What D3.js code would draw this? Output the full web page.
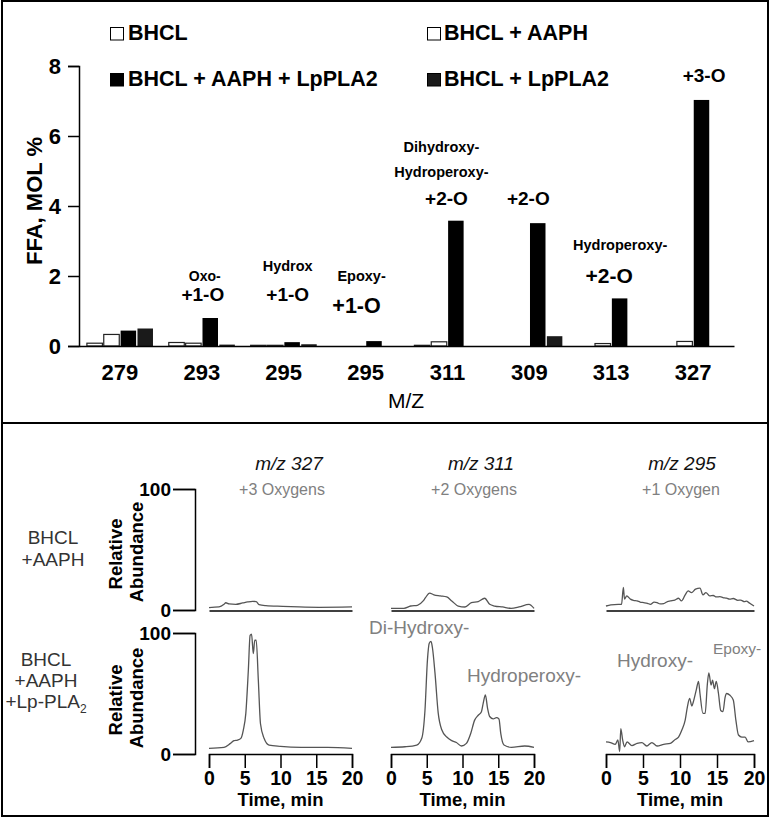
<!DOCTYPE html>
<html>
<head>
<meta charset="utf-8">
<script src="https://cdn.jsdelivr.net/npm/d3@7"></script>
<style>
  html, body { margin: 0; padding: 0; background: #fff; }
  svg { display: block; font-family: "Liberation Sans", Arial, sans-serif; }
</style>
</head>
<body>
<svg id="chart" width="771" height="818"></svg>
<script>
// ---------------- DATA ----------------
const categories = ["279", "293", "295", "295", "311", "309", "313", "327"];
const seriesNames = ["BHCL", "BHCL + AAPH", "BHCL + AAPH + LpPLA2", "BHCL + LpPLA2"];
const bhcl         = [0.08, 0.10, 0.02, 0.00, 0.02, 0.00, 0.00, 0.00];
const bhclAaph     = [0.33, 0.08, 0.02, 0.00, 0.12, 0.00, 0.07, 0.13];
const bhclAaphLp   = [0.44, 0.80, 0.11, 0.14, 3.58, 3.51, 1.36, 7.03];
const bhclLp       = [0.50, 0.04, 0.05, 0.00, 0.00, 0.28, 0.00, 0.00];
const yTicks = [0, 2, 4, 6, 8];

// annotation texts per category index
const annotations = [
  { cat: 1, lines: ["Oxo-", "+1-O"] },
  { cat: 2, lines: ["Hydrox", "+1-O"] },
  { cat: 3, lines: ["Epoxy-", "+1-O"] },
  { cat: 4, lines: ["Dihydroxy-", "Hydroperoxy-", "+2-O"] },
  { cat: 5, lines: ["+2-O"] },
  { cat: 6, lines: ["Hydroperoxy-", "+2-O"] },
  { cat: 7, lines: ["+3-O"] }
];

// chromatograms: [time (min), relative abundance %]
const columnTitles = ["m/z 327", "m/z 311", "m/z 295"];
const columnSubtitles = ["+3 Oxygens", "+2 Oxygens", "+1 Oxygen"];
const timeTicks = [0, 5, 10, 15, 20];

const trace327Aaph = [[0,2],[1.4,2.5],[2.1,4.7],[2.35,6],[2.8,5],[3.75,4.7],[4.7,5.8],[5.4,6.7],[6.1,7.2],[6.6,7],[7.0,4.4],[7.95,3.6],[10.3,3],[12.6,2.5],[15.4,2.2],[20,2.5]];
const trace311Aaph = [[0,1.4],[1.8,1.4],[2.75,3.3],[3.7,3.9],[4.5,7.5],[4.8,10],[5.4,14],[6.0,12.6],[6.9,11.7],[7.8,10.8],[8.5,7.5],[9.4,3.3],[10.35,2.5],[11.25,6],[12.2,6.9],[13.1,9.7],[13.8,4.7],[14.5,3.3],[15.6,2.5],[16.8,1.4],[17.9,2.5],[19.3,4.7],[20,1.4]];
const trace295Aaph = [[0,3.3],[0.65,4.2],[1.65,4.7],[2.1,4.7],[2.35,18.6],[2.5,9],[2.8,11.7],[3.3,9],[3.7,8],[4.2,7.5],[4.6,6.6],[5.1,6.1],[5.6,5.5],[6.0,4.7],[6.5,6.5],[6.9,6.1],[7.3,5],[7.8,5.3],[8.3,7],[8.7,7.5],[9.3,8.2],[9.8,9.7],[10.2,7.5],[10.7,12.5],[11.1,15.8],[11.55,14.4],[12.1,17.2],[12.7,18],[13.1,12.5],[13.5,14.4],[14.0,11.7],[14.5,12],[14.9,10.8],[15.4,11],[15.8,10.3],[16.3,9.8],[16.7,9],[17.2,9.5],[17.8,8],[18.2,8.2],[18.7,6.9],[19.0,7.3],[19.3,6.1],[20,3.3]];

const trace327Lp = [[0,4.7],[2.1,5.5],[3.0,8.8],[3.5,11],[4.0,11.5],[4.45,12.9],[4.8,19.8],[5.15,33.6],[5.5,69],[5.75,98],[5.95,99],[6.2,83],[6.4,94],[6.6,94],[6.9,61],[7.2,25],[7.7,13],[8.4,7.4],[10,6.3],[12.9,5.5],[16.6,5.5],[20,4.7]];
const trace311Lp = [[0,5.5],[1.95,6],[3.6,7.4],[4.3,13],[4.75,36],[5.1,78],[5.35,91.5],[5.6,93],[5.8,87.6],[6.15,67],[6.6,34],[7.1,20],[7.8,14],[8.5,11],[9.15,9.5],[9.85,6.6],[10.55,8.8],[11.15,17],[11.7,28],[12.2,32],[12.65,35],[12.9,42],[13.2,48.8],[13.5,38],[13.8,31],[14.3,29],[14.75,30],[15.1,29],[15.35,17],[15.8,7.4],[16.85,5.5],[18.7,6.6],[20,5.5]];
const trace295Lp = [[0,10],[0.6,9.4],[1.25,8],[1.6,11.6],[1.85,2],[2.0,21],[2.25,11.6],[2.5,6],[2.85,10],[3.5,7],[4.2,8.8],[4.85,9.4],[5.5,6.6],[6.2,9.4],[6.9,6.6],[7.8,8],[8.7,8.8],[9.35,12],[9.8,14],[10.25,19.8],[10.7,28],[11.0,39],[11.3,46],[11.6,39.6],[11.8,43],[12.2,53],[12.5,60],[12.7,50],[13.1,33.6],[13.4,33.6],[13.7,58],[13.9,67],[14.2,57],[14.4,61],[14.65,54],[14.9,60],[15.2,50],[15.5,36],[15.8,35],[16.1,47],[16.3,50],[16.75,48.5],[17.2,44.6],[17.55,28],[17.9,15.7],[18.35,14],[18.8,14],[19.2,10],[20,11]];

const rowLabels = [["BHCL", "+AAPH"], ["BHCL", "+AAPH", "+Lp-PLA"]];
const peakLabels = [
  { col: 1, text: "Di-Hydroxy-" },
  { col: 1, text: "Hydroperoxy-" },
  { col: 2, text: "Hydroxy-" },
  { col: 2, text: "Epoxy-" }
];

// ---------------- DRAW ----------------
const svg = d3.select("#chart");
const FONT = '"Liberation Sans", Arial, sans-serif';

// frame
svg.append("rect").attr("x", 2).attr("y", 1).attr("width", 766).attr("height", 815)
  .attr("fill", "none").attr("stroke", "#000").attr("stroke-width", 2);
svg.append("line").attr("x1", 2).attr("x2", 768).attr("y1", 423).attr("y2", 423)
  .attr("stroke", "#000").attr("stroke-width", 2);

// ---------- top bar chart ----------
const seriesValues = [bhcl, bhclAaph, bhclAaphLp, bhclLp];
const seriesFill = ["#ffffff", "#ffffff", "#000000", "#1a1a1a"];
const legendFill = ["#ffffff", "#ffffff", "#000000", "#1a1a1a"];

const x0 = d3.scaleBand().domain(d3.range(categories.length)).range([79, 734]).paddingInner(0.16).paddingOuter(0.08);
const x1 = d3.scaleBand().domain(d3.range(seriesNames.length)).range([0, x0.bandwidth()]).padding(0.08);
const y = d3.scaleLinear().domain([0, 8]).range([346, 66]);

const topG = svg.append("g");

// bars
categories.forEach((c, i) => {
  seriesValues.forEach((vals, s) => {
    const v = vals[i];
    topG.append("rect")
      .attr("x", x0(i) + x1(s))
      .attr("y", y(v))
      .attr("width", x1.bandwidth())
      .attr("height", Math.max(0, y(0) - y(v)))
      .attr("fill", seriesFill[s])
      .attr("stroke", s < 2 ? "#222" : "none")
      .attr("stroke-width", 1.2);
  });
});

// y axis
const yAxis = topG.append("g").attr("transform", "translate(79,0)")
  .call(d3.axisLeft(y).tickValues(yTicks).tickFormat(d3.format("d")).tickSize(11).tickPadding(7));
yAxis.selectAll("path, line").attr("stroke", "#000").attr("stroke-width", 1.5);
yAxis.selectAll("text").attr("font-family", FONT).attr("font-size", 22).attr("font-weight", "bold").attr("fill", "#000");

// x axis
const xAxis = topG.append("g").attr("transform", "translate(0,346)")
  .call(d3.axisBottom(x0).tickFormat(i => categories[i]).tickSize(0).tickSizeOuter(0).tickPadding(18));
xAxis.select(".domain").attr("stroke", "#000").attr("stroke-width", 1.5);
xAxis.selectAll("text").attr("font-family", FONT).attr("font-size", 22).attr("font-weight", "bold").attr("fill", "#000");

// axis titles
topG.append("text").attr("transform", "translate(42,201) rotate(-90)")
  .attr("text-anchor", "middle").attr("font-size", 22).attr("font-weight", "bold").text("FFA, MOL %");
topG.append("text").attr("x", 406).attr("y", 408).attr("text-anchor", "middle")
  .attr("font-size", 21).text("M/Z");

// legend
const legendLayout = [
  { sx: 110, tx: 128, by: 40 },
  { sx: 427, tx: 444, by: 40 },
  { sx: 110, tx: 128, by: 86 },
  { sx: 427, tx: 444, by: 86 }
];
seriesNames.forEach((name, s) => {
  const L = legendLayout[s];
  topG.append("rect").attr("x", L.sx + 0.5).attr("y", L.by - 12.5).attr("width", 13).attr("height", 12.5)
    .attr("fill", legendFill[s]).attr("stroke", "#000").attr("stroke-width", 1);
  topG.append("text").attr("x", L.tx).attr("y", L.by).attr("font-size", 21.5).attr("font-weight", "bold").text(name);
});

// annotations layout (dx from band centre, baseline y, font size per line)
const annLayout = {
  1: [{ dx: 3, by: 281, fs: 14 }, { dx: 1, by: 301, fs: 19 }],
  2: [{ dx: 4, by: 271, fs: 14.5 }, { dx: 4, by: 301, fs: 19 }],
  3: [{ dx: -4, by: 281, fs: 14.5 }, { dx: -9, by: 313, fs: 21.5 }],
  4: [{ dx: -6, by: 152, fs: 14.5 }, { dx: -6, by: 177, fs: 14.5 }, { dx: -1, by: 205, fs: 19 }],
  5: [{ dx: -1, by: 205, fs: 19 }],
  6: [{ dx: 9, by: 250, fs: 14.5 }, { dx: -2, by: 283, fs: 21 }],
  7: [{ dx: 11, by: 82, fs: 19 }]
};
annotations.forEach(a => {
  const cx = x0(a.cat) + x0.bandwidth() / 2;
  a.lines.forEach((t, k) => {
    const L = annLayout[a.cat][k];
    topG.append("text").attr("x", cx + L.dx).attr("y", L.by).attr("text-anchor", "middle")
      .attr("font-size", L.fs).attr("font-weight", "bold").text(t);
  });
});

// ---------- bottom chromatograms ----------
const bot = svg.append("g");
const colRanges = [[209, 352], [391, 534], [606, 754]];
const rowY = [
  d3.scaleLinear().domain([0, 100]).range([610, 489]),
  d3.scaleLinear().domain([0, 100]).range([754, 633])
];
const traces = [
  [trace327Aaph, trace311Aaph, trace295Aaph],
  [trace327Lp, trace311Lp, trace295Lp]
];
const titleCenters = [289, 481, 682];
const subCenters = [282, 474, 681];

columnTitles.forEach((t, c) => {
  bot.append("text").attr("x", titleCenters[c]).attr("y", 470).attr("text-anchor", "middle")
    .attr("font-size", 19).attr("font-style", "italic").attr("fill", "#111").text(t);
  bot.append("text").attr("x", subCenters[c]).attr("y", 495).attr("text-anchor", "middle")
    .attr("font-size", 16).attr("fill", "#808080").text(columnSubtitles[c]);
});

traces.forEach((row, r) => {
  const ys = rowY[r];
  const ya = bot.append("g").attr("transform", "translate(195,0)")
    .call(d3.axisLeft(ys).tickValues([0, 100]).tickSize(22).tickSizeOuter(22).tickPadding(2));
  ya.selectAll("path, line").attr("stroke", "#000").attr("stroke-width", 1.5);
  ya.selectAll("text").attr("font-family", FONT).attr("font-size", 19).attr("font-weight", "bold").attr("fill", "#000");

  bot.append("text").attr("transform", `translate(122,${r === 0 ? 554 : 700}) rotate(-90)`)
    .attr("text-anchor", "middle").attr("font-size", 18.5).attr("font-weight", "bold").text("Relative");
  bot.append("text").attr("transform", `translate(143,${r === 0 ? 552 : 698}) rotate(-90)`)
    .attr("text-anchor", "middle").attr("font-size", 18.5).attr("font-weight", "bold").text("Abundance");

  row.forEach((data, c) => {
    const xs = d3.scaleLinear().domain([0, 20]).range(colRanges[c]);
    const g = bot.append("g");
    const axisY = r === 0 ? 610.5 : 754;
    const xa = g.append("g").attr("transform", `translate(0,${axisY})`);
    if (r === 0) {
      xa.call(d3.axisBottom(xs).tickValues([]).tickSizeOuter(0));
    } else {
      xa.call(d3.axisBottom(xs).tickValues(timeTicks).tickSize(14).tickSizeOuter(14).tickPadding(3));
      xa.selectAll("text").attr("font-family", FONT).attr("font-size", 19.5).attr("font-weight", "bold").attr("fill", "#000");
      g.append("text").attr("x", (colRanges[c][0] + colRanges[c][1]) / 2).attr("y", 806)
        .attr("text-anchor", "middle").attr("font-size", 18.5).attr("font-weight", "bold").text("Time, min");
    }
    xa.selectAll("path, line").attr("stroke", "#000").attr("stroke-width", 1.5);

    g.append("path").datum(data)
      .attr("d", d3.line().x(d => xs(d[0])).y(d => ys(d[1])).curve(d3.curveMonotoneX))
      .attr("fill", "none").attr("stroke", "#555").attr("stroke-width", 1.3);
  });
});

// row labels
const rowLabelLayout = [
  { cx: 53, ys: [544, 566] },
  { cx: 46, ys: [666, 687, 708] }
];
rowLabels.forEach((lines, r) => {
  lines.forEach((t, k) => {
    const tx = bot.append("text").attr("x", rowLabelLayout[r].cx).attr("y", rowLabelLayout[r].ys[k])
      .attr("text-anchor", "middle").attr("font-size", 19).attr("fill", "#333");
    tx.append("tspan").text(t);
    if (r === 1 && k === 2) {
      tx.append("tspan").attr("font-size", 12).attr("dy", 5).text("2");
    }
  });
});

// peak labels (gray)
const peakLayout = [
  { x: 369, y: 634, fs: 19 },
  { x: 467, y: 682, fs: 19 },
  { x: 617, y: 667, fs: 19 },
  { x: 713, y: 654, fs: 15.5 }
];
peakLabels.forEach((p, k) => {
  const L = peakLayout[k];
  bot.append("text").attr("x", L.x).attr("y", L.y).attr("font-size", L.fs).attr("fill", "#808080").text(p.text);
});

svg.selectAll("text").attr("font-family", FONT);
</script>
</body>
</html>
